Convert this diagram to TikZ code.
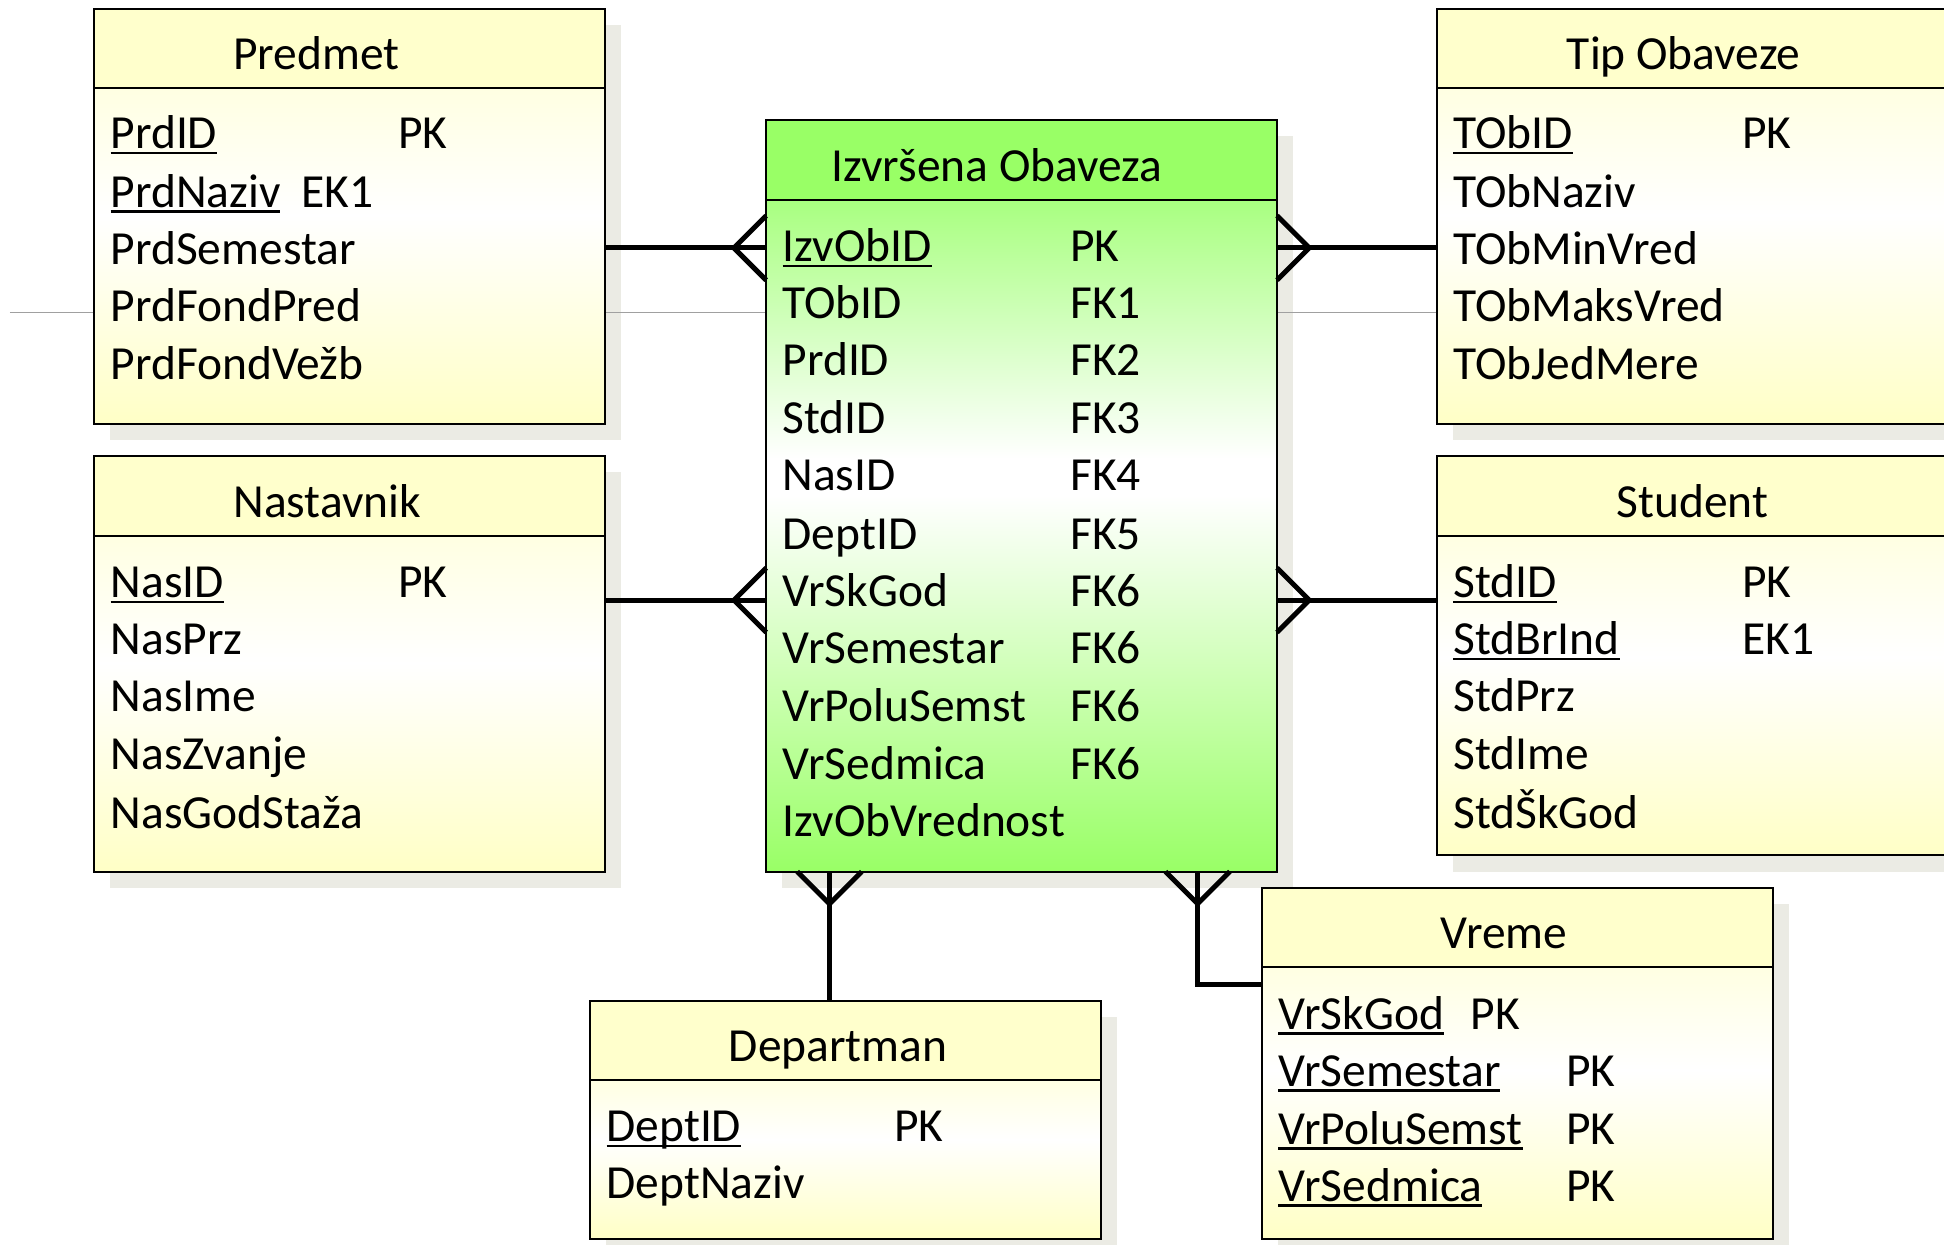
\documentclass[tikz,border=0pt]{standalone}
\usepackage{fontspec}
\setmainfont{Carlito}
\usetikzlibrary{calc}

\definecolor{shadowgray}{HTML}{EBEBE4}
\definecolor{guidegray}{HTML}{A0A0A0}
\definecolor{yhead}{HTML}{FFFFCC}
\definecolor{ytop}{HTML}{FFFFE2}
\definecolor{ybot}{HTML}{FFFFC6}
\definecolor{ghead}{HTML}{99FF66}
\definecolor{gtop}{HTML}{A8FF80}
\definecolor{gbot}{HTML}{99FF66}

\newcommand\erfont{\fontsize{38.3}{46}\selectfont}
% underlined key attribute
\newcommand\ukey[1]{\setbox0\hbox{#1}\rlap{\rule[-4.5pt]{\wd0}{2pt}}\box0}

\tikzset{
  shadowbox/.style={fill=shadowgray, draw=none},
  frame/.style={draw=black, line width=1.6pt, fill=none, inner sep=0pt, outer sep=0pt},
  rel/.style={draw=black, line width=4pt},
  guide/.style={draw=guidegray, line width=1pt},
  etitle/.style={anchor=base, inner sep=0pt, font=\erfont},
  attr/.style={anchor=base west, inner sep=0pt, font=\erfont},
}

% yellow entity: name, x1, y1, x2, y2, header bottom
\newcommand\yentity[6]{%
  \fill[yhead] (#2,#3) rectangle (#4,#6);
  \shade[top color=ytop, bottom color=white] (#2,#6) rectangle (#4,{#6+(#5-#6)*0.38});
  \shade[top color=white, bottom color=ybot] (#2,{#6+(#5-#6)*0.38-0.5}) rectangle (#4,#5);
  \node[frame, minimum width={(#4-#2)*1pt}, minimum height={(#5-#3)*1pt}] (#1) at ({(#2+#4)/2},{(#3+#5)/2}) {};
  \draw[line width=1.6pt] (#1.west |- 0,#6) -- (#1.east |- 0,#6);
}
\newcommand\eshadow[4]{\fill[shadowbox] (#1+13,#2+13) rectangle (#3+13,#4+13);}

\begin{document}
\begin{tikzpicture}[x=1pt, y=-1pt]
\clip (0,0) rectangle (1568,1004);
\fill[white] (0,0) rectangle (1568,1004);

% shadows
\eshadow{76}{7}{488}{342}
\eshadow{76}{368}{488}{703}
\eshadow{618}{97}{1030}{703}
\eshadow{1159}{7}{1620}{342}
\eshadow{1159}{368}{1620}{690}
\eshadow{476}{807}{888}{999}
\eshadow{1018}{716}{1430}{999}

% thin guide line behind the tables
\coordinate (gstart) at (8,252);
\coordinate (gend) at (1159,252);
\draw[guide] (gstart) -- (gend);

% yellow tables
\yentity{predmet}{76}{7}{488}{342}{71}
\yentity{nastavnik}{76}{368}{488}{703}{432}
\yentity{tip}{1159}{7}{1620}{342}{71}
\yentity{student}{1159}{368}{1620}{690}{432}
\yentity{dept}{476}{807}{888}{999}{871}
\yentity{vreme}{1018}{716}{1430}{999}{780}

% central fact table
\fill[ghead] (618,97) rectangle (1030,161);
\shade[top color=gtop, bottom color=white] (618,161) rectangle (1030,370);
\fill[white] (618,369.5) rectangle (1030,400);
\shade[top color=white, bottom color=gbot] (618,399.5) rectangle (1030,703);
\node[frame, minimum width=412pt, minimum height=606pt] (izv) at (824,400) {};
\draw[line width=1.6pt] (izv.west |- 0,161) -- (izv.east |- 0,161);

% titles
\node[etitle] (predmet-t) at (255,56) {Predmet};
\node[etitle] (nastavnik-t) at (264,417) {Nastavnik};
\node[etitle] (izv-t) at (804,146) {Izvršena Obaveza};
\node[etitle] (tip-t) at (1358,56) {Tip Obaveze};
\node[etitle] (student-t) at (1365,417) {Student};
\node[etitle] (dept-t) at (676,856) {Departman};
\node[etitle] (vreme-t) at (1213,765) {Vreme};

% Predmet
\node[attr] (predmet-a1) at (89,120) {\ukey{PrdID}};
\node[attr] (predmet-k1) at (321,120) {PK};
\node[attr] (predmet-a2) at (89,167) {\ukey{PrdNaziv}};
\node[attr] (predmet-k2) at (243,167) {EK1};
\node[attr] (predmet-a3) at (89,213) {PrdSemestar};
\node[attr] (predmet-a4) at (89,259) {PrdFondPred};
\node[attr] (predmet-a5) at (89,306) {PrdFondVežb};

% Nastavnik
\node[attr] (nastavnik-a1) at (89,482) {\ukey{NasID}};
\node[attr] (nastavnik-k1) at (321,482) {PK};
\node[attr] (nastavnik-a2) at (89,528) {NasPrz};
\node[attr] (nastavnik-a3) at (89,574) {NasIme};
\node[attr] (nastavnik-a4) at (89,621) {NasZvanje};
\node[attr] (nastavnik-a5) at (89,668) {NasGodStaža};

% Izvrsena Obaveza
\node[attr] (izv-a1) at (631,211) {\ukey{IzvObID}};
\node[attr] (izv-k1) at (863,211) {PK};
\node[attr] (izv-a2) at (631,257) {TObID};
\node[attr] (izv-k2) at (863,257) {FK1};
\node[attr] (izv-a3) at (631,303) {PrdID};
\node[attr] (izv-k3) at (863,303) {FK2};
\node[attr] (izv-a4) at (631,350) {StdID};
\node[attr] (izv-k4) at (863,350) {FK3};
\node[attr] (izv-a5) at (631,396) {NasID};
\node[attr] (izv-k5) at (863,396) {FK4};
\node[attr] (izv-a6) at (631,443) {DeptID};
\node[attr] (izv-k6) at (863,443) {FK5};
\node[attr] (izv-a7) at (631,489) {VrSkGod};
\node[attr] (izv-k7) at (863,489) {FK6};
\node[attr] (izv-a8) at (631,535) {VrSemestar};
\node[attr] (izv-k8) at (863,535) {FK6};
\node[attr] (izv-a9) at (631,582) {VrPoluSemst};
\node[attr] (izv-k9) at (863,582) {FK6};
\node[attr] (izv-a10) at (631,629) {VrSedmica};
\node[attr] (izv-k10) at (863,629) {FK6};
\node[attr] (izv-a11) at (631,675) {IzvObVrednost};

% Tip Obaveze
\node[attr] (tip-a1) at (1172,120) {\ukey{TObID}};
\node[attr] (tip-k1) at (1405,120) {PK};
\node[attr] (tip-a2) at (1172,167) {TObNaziv};
\node[attr] (tip-a3) at (1172,213) {TObMinVred};
\node[attr] (tip-a4) at (1172,259) {TObMaksVred};
\node[attr] (tip-a5) at (1172,306) {TObJedMere};

% Student
\node[attr] (student-a1) at (1172,482) {\ukey{StdID}};
\node[attr] (student-k1) at (1405,482) {PK};
\node[attr] (student-a2) at (1172,528) {\ukey{StdBrInd}};
\node[attr] (student-k2) at (1405,528) {EK1};
\node[attr] (student-a3) at (1172,574) {StdPrz};
\node[attr] (student-a4) at (1172,621) {StdIme};
\node[attr] (student-a5) at (1172,668) {StdŠkGod};

% Departman
\node[attr] (dept-a1) at (489,921) {\ukey{DeptID}};
\node[attr] (dept-k1) at (721,921) {PK};
\node[attr] (dept-a2) at (489,967) {DeptNaziv};

% Vreme
\node[attr] (vreme-a1) at (1031,830) {\ukey{VrSkGod}};
\node[attr] (vreme-k1) at (1186,830) {PK};
\node[attr] (vreme-a2) at (1031,876) {\ukey{VrSemestar}};
\node[attr] (vreme-k2) at (1263,876) {PK};
\node[attr] (vreme-a3) at (1031,923) {\ukey{VrPoluSemst}};
\node[attr] (vreme-k3) at (1263,923) {PK};
\node[attr] (vreme-a4) at (1031,969) {\ukey{VrSedmica}};
\node[attr] (vreme-k4) at (1263,969) {PK};

% relationship levels
\coordinate (r1) at (0,200);
\coordinate (r2) at (0,484);
\coordinate (r3) at (669,0);
\coordinate (r4) at (966,0);
\coordinate (r5) at (0,794);

% one-to-many connectors with crow's feet at the fact table
\draw[rel] (predmet.east |- r1) -- (izv.west |- r1);
\draw[rel] ($(izv.west |- r1)+(0,-26)$) -- ($(izv.west |- r1)+(-26,0)$) -- ($(izv.west |- r1)+(0,26)$);

\draw[rel] (nastavnik.east |- r2) -- (izv.west |- r2);
\draw[rel] ($(izv.west |- r2)+(0,-26)$) -- ($(izv.west |- r2)+(-26,0)$) -- ($(izv.west |- r2)+(0,26)$);

\draw[rel] (tip.west |- r1) -- (izv.east |- r1);
\draw[rel] ($(izv.east |- r1)+(0,-26)$) -- ($(izv.east |- r1)+(26,0)$) -- ($(izv.east |- r1)+(0,26)$);

\draw[rel] (student.west |- r2) -- (izv.east |- r2);
\draw[rel] ($(izv.east |- r2)+(0,-26)$) -- ($(izv.east |- r2)+(26,0)$) -- ($(izv.east |- r2)+(0,26)$);

\draw[rel] (dept.north -| r3) -- (izv.south -| r3);
\draw[rel] ($(izv.south -| r3)+(-26,0)$) -- ($(izv.south -| r3)+(0,26)$) -- ($(izv.south -| r3)+(26,0)$);

\draw[rel] (vreme.west |- r5) -| (izv.south -| r4);
\draw[rel] ($(izv.south -| r4)+(-26,0)$) -- ($(izv.south -| r4)+(0,26)$) -- ($(izv.south -| r4)+(26,0)$);

\end{tikzpicture}
\end{document}
